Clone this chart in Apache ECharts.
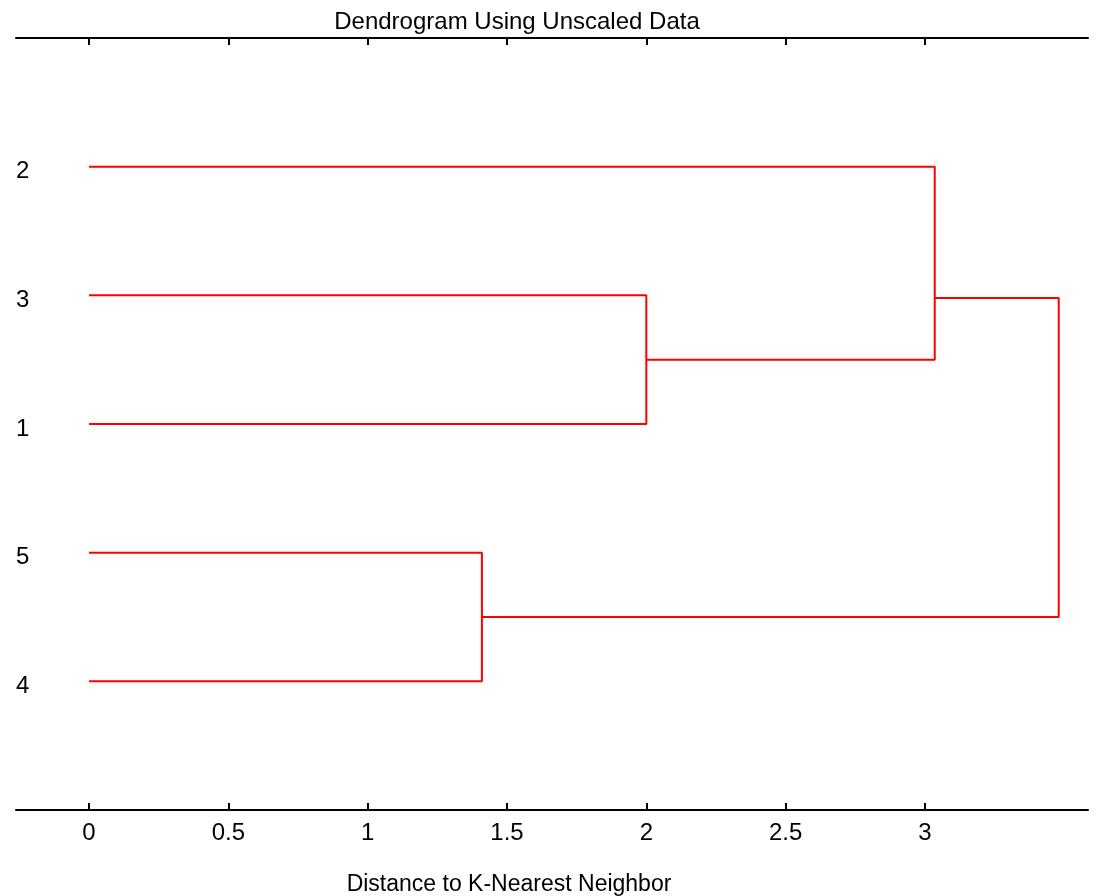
<!DOCTYPE html>
<html>
<head>
    <meta charset="utf-8">
    <script src="https://cdn.jsdelivr.net/npm/echarts@6/dist/echarts.min.js"></script>
    <style>
        html, body { margin: 0; padding: 0; background: #ffffff; }
        #main { width: 1101px; height: 896px; }
    </style>
</head>
<body>
<div id="main"></div>
<script>
    // leaves from bottom (y = 1) to top (y = 5)
    var leafLabels = ['4', '5', '1', '3', '2'];
    var leafPos = [1, 2, 3, 4, 5];
    var xTicks = [0, 0.5, 1, 1.5, 2, 2.5, 3];

    // each link: x points and y points of the U-shaped branch
    var link1X = [0, 1.41, 1.41, 0];
    var link1Y = [2, 2, 1, 1];
    var link2X = [0, 2.0, 2.0, 0];
    var link2Y = [4, 4, 3, 3];
    var link3X = [0, 3.035, 3.035, 2.0];
    var link3Y = [5, 5, 3.5, 3.5];
    var link4X = [3.035, 3.48, 3.48, 1.41];
    var link4Y = [3.98, 3.98, 1.5, 1.5];

    var links = [[link1X, link1Y], [link2X, link2Y], [link3X, link3Y], [link4X, link4Y]];

    var font = 'Liberation Sans, Arial, sans-serif';
    var chart = echarts.init(document.getElementById('main'));

    var series = links.map(function (l) {
        return {
            type: 'line',
            xAxisIndex: 0,
            data: l[0].map(function (x, i) { return [x, l[1][i]]; }),
            symbol: 'none',
            silent: true,
            lineStyle: { color: '#ff0000', width: 2 }
        };
    });

    var option = {
        animation: false,
        backgroundColor: '#ffffff',
        title: {
            text: 'Dendrogram Using Unscaled Data',
            left: 512,
            textAlign: 'center',
            top: 5,
            textStyle: { fontSize: 24, fontWeight: 'normal', color: '#000', fontFamily: font }
        },
        grid: { left: 16, right: 13, top: 38, bottom: 86, containLabel: false, outerBoundsMode: 'none' },
        xAxis: [
            {
                type: 'value',
                position: 'bottom',
                min: -0.262,
                max: 3.585,
                name: 'Distance to K-Nearest Neighbor',
                nameLocation: 'middle',
                nameGap: 63,
                nameTextStyle: { fontSize: 23, color: '#000', fontFamily: font, padding: [0, 86, 0, 0] },
                axisLine: { lineStyle: { color: '#000', width: 2 } },
                axisTick: { inside: true, length: 7, lineStyle: { color: '#000', width: 2 }, customValues: xTicks },
                axisLabel: { fontSize: 24, color: '#000', fontFamily: font, margin: 11, customValues: xTicks },
                splitLine: { show: false }
            },
            {
                type: 'value',
                position: 'top',
                min: -0.262,
                max: 3.585,
                axisLine: { lineStyle: { color: '#000', width: 2 } },
                axisTick: { inside: true, length: 7, lineStyle: { color: '#000', width: 2 }, customValues: xTicks },
                axisLabel: { show: false },
                splitLine: { show: false }
            }
        ],
        yAxis: {
            type: 'value',
            min: 0,
            max: 6,
            axisLine: { show: false },
            axisTick: { show: false },
            splitLine: { show: false },
            axisLabel: {
                inside: true,
                margin: 0,
                fontSize: 24,
                color: '#000',
                fontFamily: font,
                verticalAlign: 'top',
                lineHeight: 10,
                customValues: leafPos,
                formatter: function (v) { return leafLabels[Math.round(v) - 1]; }
            }
        },
        series: series
    };
    chart.setOption(option);
</script>
</body>
</html>
